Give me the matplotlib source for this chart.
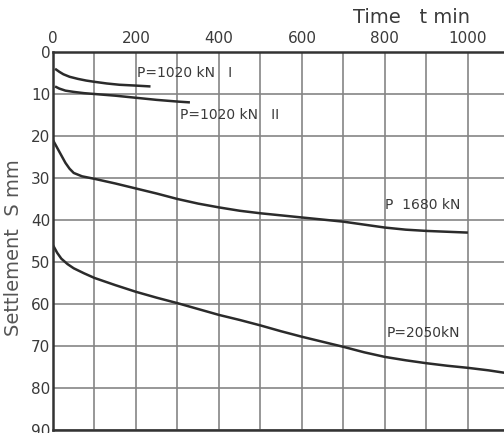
import matplotlib
matplotlib.use("Agg")
import matplotlib.pyplot as plt
import numpy as np

# settlement curves (t in min, S in mm)
t_1020_1 = [5, 15, 25, 40, 60, 80, 100, 130, 160, 200, 235]
s_1020_1 = [4.0, 4.7, 5.3, 5.9, 6.4, 6.8, 7.1, 7.5, 7.8, 8.0, 8.2]

t_1020_2 = [5, 15, 30, 50, 75, 100, 150, 200, 250, 300, 330]
s_1020_2 = [8.2, 8.7, 9.2, 9.5, 9.8, 10.0, 10.4, 10.9, 11.4, 11.8, 12.0]

t_1680 = [0, 10, 20, 30, 40, 50, 70, 100, 150, 200, 250, 300, 350, 400,
          450, 500, 600, 700, 750, 800, 850, 900, 950, 1000]
s_1680 = [21.0, 22.8, 24.6, 26.4, 27.8, 28.8, 29.6, 30.2, 31.3, 32.5, 33.7, 35.0, 36.1, 37.0,
          37.8, 38.4, 39.4, 40.4, 41.1, 41.8, 42.3, 42.6, 42.8, 43.0]

t_2050 = [0, 10, 20, 35, 50, 75, 100, 150, 200, 250, 300, 350, 400, 450, 500,
          550, 600, 650, 700, 750, 800, 850, 900, 950, 1000, 1050, 1090]
s_2050 = [46.0, 47.8, 49.2, 50.5, 51.5, 52.7, 53.8, 55.5, 57.1, 58.5, 59.8, 61.2, 62.6, 63.8, 65.1,
          66.5, 67.8, 69.0, 70.2, 71.5, 72.6, 73.4, 74.1, 74.7, 75.2, 75.8, 76.4]

x_ticks = [0, 200, 400, 600, 800, 1000]
y_ticks = [0, 10, 20, 30, 40, 50, 60, 70, 80, 90]

line_col = "#2b2b2b"
text_col = "#3a3a3a"

fig = plt.figure(figsize=(5.04, 4.33), dpi=100)
ax = fig.add_axes([53 / 504, 3 / 433, 451 / 504, 378 / 433])

ax.set_xlim(0, 1087)
ax.set_ylim(90, 0)

# grid every 100 min / 10 mm
ax.set_xticks(np.arange(0, 1087, 100), minor=True)
ax.set_xticks(x_ticks)
ax.set_yticks(y_ticks)
ax.grid(True, which="both", color="#858585", linewidth=1.2)
ax.tick_params(which="both", length=0)
ax.xaxis.tick_top()
ax.tick_params(axis="x", pad=4, labelsize=11, labelcolor=text_col)
ax.tick_params(axis="y", pad=2, labelsize=11, labelcolor=text_col)

for side in ["left", "top", "bottom"]:
    ax.spines[side].set_color("#333333")
    ax.spines[side].set_linewidth(1.8)
ax.spines["right"].set_visible(False)

for tt, ss in [(t_1020_1, s_1020_1), (t_1020_2, s_1020_2), (t_1680, s_1680), (t_2050, s_2050)]:
    ax.plot(tt, ss, color=line_col, linewidth=1.8, solid_capstyle="butt")

ax.text(202, 5, "P=1020 kN   I", fontsize=10, color=text_col, va="center")
ax.text(305, 15, "P=1020 kN   II", fontsize=10, color=text_col, va="center")
ax.text(800, 36.5, "P  1680 kN", fontsize=10, color=text_col, va="center")
ax.text(805, 67, "P=2050kN", fontsize=10, color=text_col, va="center")

fig.text(0.70, 0.96, "Time   t min", fontsize=14, color=text_col, ha="left", va="center")
fig.text(0.026, 0.427, "Settlement  S mm", fontsize=14, color="#555555",
         rotation=90, ha="center", va="center")

fig.savefig("out.png", dpi=100)
